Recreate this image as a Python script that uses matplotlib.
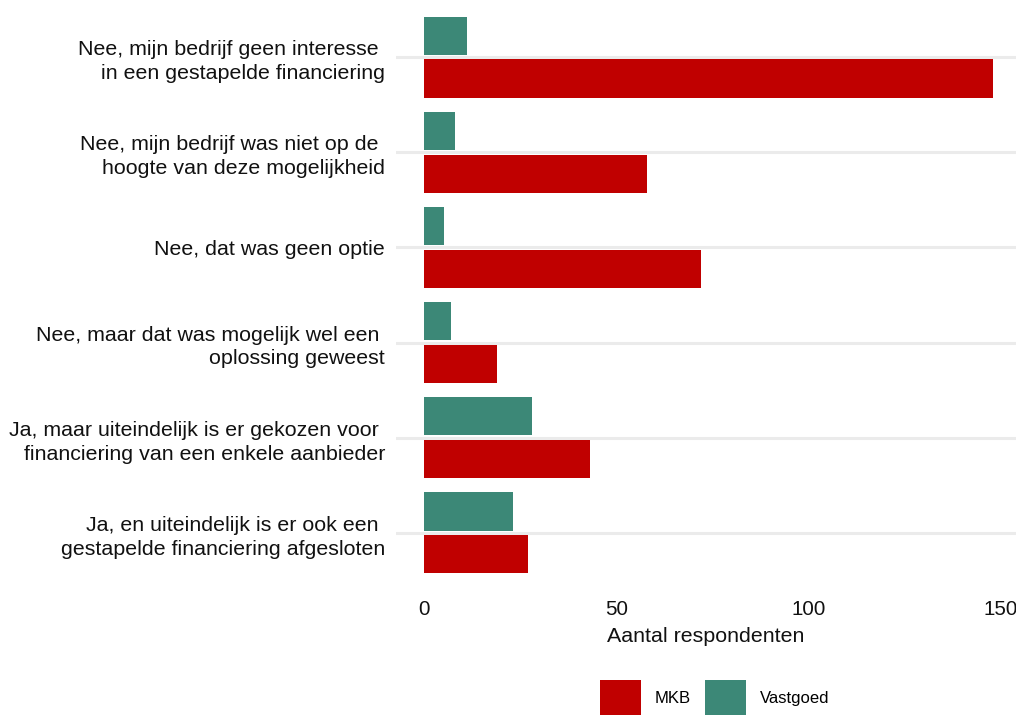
import matplotlib
matplotlib.use("Agg")
import matplotlib.pyplot as plt
from matplotlib.patches import Patch
import numpy as np

plt.rcParams['font.family'] = ['Liberation Sans', 'DejaVu Sans']

categories = [
    "Nee, mijn bedrijf geen interesse \nin een gestapelde financiering",
    "Nee, mijn bedrijf was niet op de \nhoogte van deze mogelijkheid",
    "Nee, dat was geen optie",
    "Nee, maar dat was mogelijk wel een \noplossing geweest",
    "Ja, maar uiteindelijk is er gekozen voor \nfinanciering van een enkele aanbieder",
    "Ja, en uiteindelijk is er ook een \ngestapelde financiering afgesloten",
]
mkb = [148, 58, 72, 19, 43, 27]
vastgoed = [11, 8, 5, 7, 28, 23]
series_names = ["MKB", "Vastgoed"]
xticks = [0, 50, 100, 150]

RED = "#C00000"
TEAL = "#3C8877"
TXT = "#111111"

W, H = 1016, 715
fig = plt.figure(figsize=(W / 100, H / 100), dpi=100)
left, right, top, bottom = 396, 1016, 0, 590
ax = fig.add_axes([left / W, 1 - bottom / H, (right - left) / W, (bottom - top) / H])

y = np.arange(len(categories))
bw = 0.4
off = 0.225
ax.barh(y - off, vastgoed, height=bw, color=TEAL, zorder=3)
ax.barh(y + off, mkb, height=bw, color=RED, zorder=3)

ax.set_ylim(5.6, -0.6)
ax.set_xlim(-7.4, 154.0)
ax.set_yticks(y)
ax.set_yticklabels(categories, fontsize=15.4, color=TXT, linespacing=1.32)
ax.set_xticks(xticks)
ax.set_xticklabels([str(t) for t in xticks], fontsize=14.8, color=TXT)
ax.tick_params(axis='both', length=0)
ax.tick_params(axis='y', pad=8)
ax.tick_params(axis='x', pad=7)
ax.set_xlabel("Aantal respondenten", fontsize=15.4, color=TXT, labelpad=6)
ax.grid(axis='y', color="#EBEBEB", linewidth=2.2, zorder=0)
ax.grid(axis='x', visible=False)
for s in ax.spines.values():
    s.set_visible(False)
ax.set_facecolor("white")

handles = [Patch(facecolor=RED, edgecolor='none'), Patch(facecolor=TEAL, edgecolor='none')]
fig.legend(handles, series_names, loc='upper left', bbox_to_anchor=(600 / W, 1 - 680 / H),
           ncol=2, frameon=False, fontsize=12, handlelength=2.45, handleheight=2.9,
           handletextpad=0.8, columnspacing=0.9, borderpad=0, borderaxespad=0)

fig.savefig("out.png", dpi=100, facecolor="white")
